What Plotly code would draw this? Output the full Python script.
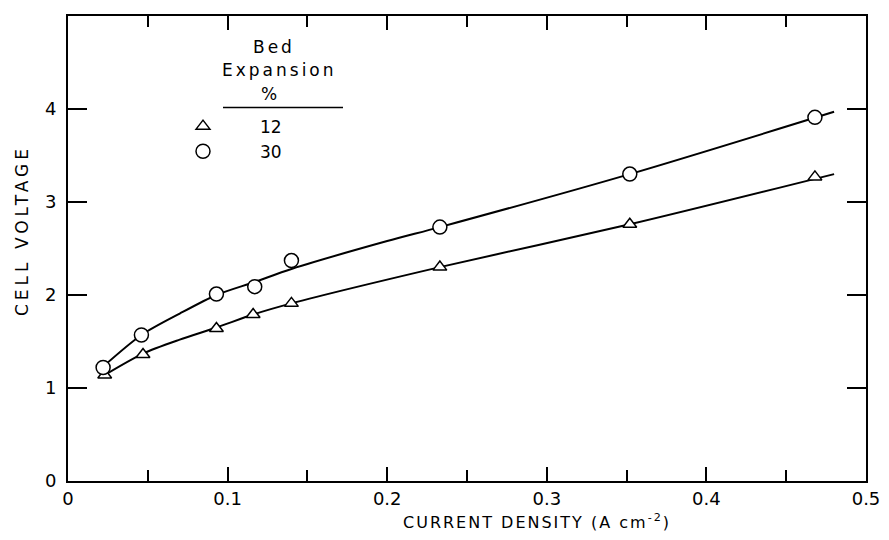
import plotly.graph_objects as go

# Measured data points
x_12 = [0.023, 0.047, 0.093, 0.116, 0.140, 0.233, 0.352, 0.468]
v_12 = [1.14, 1.36, 1.64, 1.79, 1.91, 2.30, 2.76, 3.27]
x_30 = [0.022, 0.046, 0.093, 0.117, 0.140, 0.233, 0.352, 0.468]
v_30 = [1.22, 1.57, 2.01, 2.09, 2.37, 2.73, 3.30, 3.91]

# Smooth fitted curves as drawn in the figure
fit_x_12 = [0.022, 0.047, 0.070, 0.093, 0.116, 0.140, 0.233, 0.352, 0.480]
fit_v_12 = [1.13, 1.37, 1.52, 1.65, 1.79, 1.91, 2.30, 2.76, 3.30]
fit_x_30 = [0.022, 0.046, 0.070, 0.093, 0.117, 0.140, 0.200, 0.233, 0.352, 0.480]
fit_v_30 = [1.23, 1.57, 1.80, 2.00, 2.14, 2.28, 2.58, 2.73, 3.30, 3.97]

x_ticks = [0, 0.1, 0.2, 0.3, 0.4, 0.5]
x_ticklabels = ["0", "0.1", "0.2", "0.3", "0.4", "0.5"]
y_ticks = [0, 1, 2, 3, 4]
y_ticklabels = ["0", "1", "2", "3", "4"]

series_names = ["12", "30"]
legend_header = ["Bed", "Expansion", "%"]

FONT = "DejaVu Sans"

# page body has an 8px default margin; compensate so the plot area lands where it should
PAD = 8
PLOT_L, PLOT_R, PLOT_T, PLOT_B = 68, 866, 14, 481
W, H = 889 - PAD, 540 - PAD
PW, PH = PLOT_R - PLOT_L, PLOT_B - PLOT_T


def px(xs):
    return (xs - PLOT_L) / PW


def py(ys):
    return (PLOT_B - ys) / PH


fig = go.Figure()

fig.add_trace(go.Scatter(x=fit_x_30, y=fit_v_30, mode="lines",
                         line=dict(color="black", width=2, shape="spline", smoothing=0.8),
                         showlegend=False, hoverinfo="skip"))
fig.add_trace(go.Scatter(x=fit_x_12, y=fit_v_12, mode="lines",
                         line=dict(color="black", width=2, shape="spline", smoothing=0.8),
                         showlegend=False, hoverinfo="skip"))
fig.add_trace(go.Scatter(x=x_12, y=v_12, mode="markers", name=series_names[0],
                         marker=dict(symbol="triangle-up", size=12, color="white",
                                     line=dict(color="black", width=1.5))))
fig.add_trace(go.Scatter(x=x_30, y=v_30, mode="markers", name=series_names[1],
                         marker=dict(symbol="circle", size=14, color="white",
                                     line=dict(color="black", width=1.5))))

header_pos = [(274, 45), (279, 68), (270, 92)]
annotations = []
for txt, (hx, hy) in zip(legend_header, header_pos):
    annotations.append(dict(text=f'<span style="letter-spacing:3px">{txt}</span>',
                            xref="paper", yref="paper", x=px(hx), y=py(hy),
                            xanchor="center", yanchor="middle", showarrow=False,
                            font=dict(family=FONT, size=17)))
annotations += [
    dict(text='<span style="letter-spacing:2px">CURRENT DENSITY (A cm<sup>-2</sup>)</span>',
         xref="paper", yref="paper", x=px(537), y=py(522), yanchor="middle",
         showarrow=False, font=dict(family=FONT, size=16)),
    dict(text='<span style="letter-spacing:4px">CELL VOLTAGE</span>',
         xref="paper", yref="paper", x=px(22), y=py(230), textangle=-90,
         xanchor="center", yanchor="middle",
         showarrow=False, font=dict(family=FONT, size=17)),
]

fig.update_layout(
    width=W, height=H,
    margin=dict(l=PLOT_L - PAD, r=W - (PLOT_R - PAD), t=PLOT_T - PAD, b=H - (PLOT_B - PAD)),
    paper_bgcolor="white", plot_bgcolor="white",
    font=dict(family=FONT, size=17, color="black"),
    showlegend=True,
    legend=dict(
        x=px(146), y=py(107), xanchor="left", yanchor="top",
        bgcolor="rgba(0,0,0,0)",
        font=dict(family=FONT, size=17),
        itemwidth=104, tracegroupgap=0,
    ),
    xaxis=dict(
        range=[0, 0.5], tickvals=x_ticks, ticktext=x_ticklabels,
        ticks="inside", ticklen=14, tickwidth=1.5, tickcolor="black",
        showline=True, linecolor="black", linewidth=2, mirror="allticks",
        showgrid=False, zeroline=False,
        minor=dict(dtick=0.05, ticks="inside", ticklen=11, tickwidth=1.5,
                   tickcolor="black", showgrid=False),
        tickfont=dict(family=FONT, size=18),
    ),
    yaxis=dict(
        range=[0, 5], tickvals=y_ticks, ticktext=y_ticklabels,
        ticks="inside", ticklen=19, tickwidth=1.5, tickcolor="black",
        showline=True, linecolor="black", linewidth=2, mirror="allticks",
        showgrid=False, zeroline=False, ticklabelstandoff=6,
        tickfont=dict(family=FONT, size=18),
    ),
    annotations=annotations,
    shapes=[
        dict(type="line", xref="paper", yref="paper", x0=px(223), x1=px(343),
             y0=py(106), y1=py(106), line=dict(color="black", width=1.5)),
    ],
)

fig.write_html("out.html")
